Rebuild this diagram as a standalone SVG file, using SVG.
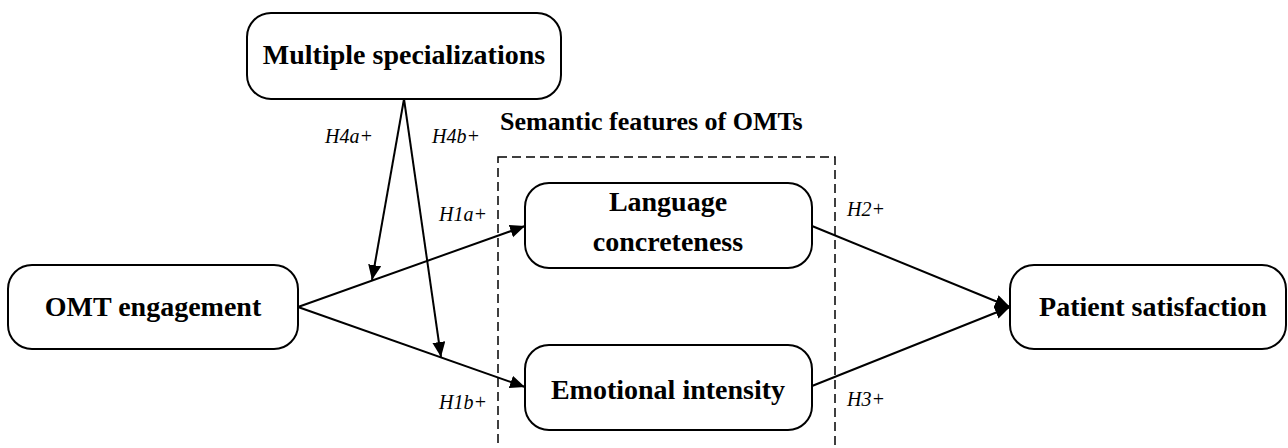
<svg xmlns="http://www.w3.org/2000/svg" width="1288" height="448" viewBox="0 0 1288 448">
<style>
.node{fill:#fff;stroke:#000;stroke-width:2}
.nt{font-family:"Liberation Serif","Times New Roman",serif;font-weight:bold;font-size:28px;fill:#000;text-anchor:middle}
.lbl{font-family:"Liberation Serif","Times New Roman",serif;font-style:italic;font-size:20px;fill:#000}
.edge{stroke:#000;stroke-width:2;fill:none}
.group{fill:none;stroke:#000;stroke-width:1.5;stroke-dasharray:9,5}
</style>
<defs>
<marker id="arr" markerUnits="userSpaceOnUse" markerWidth="16" markerHeight="14" refX="15" refY="6.5" orient="auto">
<path d="M0,0 L15,6.5 L0,13 Z" fill="#000"/>
</marker>
</defs>
<rect width="1288" height="448" fill="#fff"/>
<g id="semantic-group">
<rect class="group" x="498" y="157" width="337" height="310"/>
<text x="500" y="130" style="font-family:'Liberation Serif','Times New Roman',serif;font-weight:bold;font-size:26px">Semantic features of OMTs</text>
</g>
<g id="connectors">
<line class="edge" x1="298" y1="307" x2="525" y2="226" marker-end="url(#arr)"/>
<line class="edge" x1="298" y1="307" x2="525" y2="387" marker-end="url(#arr)"/>
<line class="edge" x1="404" y1="99" x2="372" y2="280" marker-end="url(#arr)"/>
<line class="edge" x1="404" y1="99" x2="441" y2="357" marker-end="url(#arr)"/>
<line class="edge" x1="812" y1="226" x2="1010" y2="307" marker-end="url(#arr)"/>
<line class="edge" x1="812" y1="386" x2="1010" y2="307" marker-end="url(#arr)"/>
<text class="lbl" x="325" y="143">H4a+</text>
<text class="lbl" x="432" y="143">H4b+</text>
<text class="lbl" x="439" y="221">H1a+</text>
<text class="lbl" x="439" y="409">H1b+</text>
<text class="lbl" x="847" y="216">H2+</text>
<text class="lbl" x="847" y="406">H3+</text>
</g>
<g id="multiple-specializations">
<rect class="node" x="247" y="13" width="314" height="86" rx="24"/>
<text class="nt" x="404" y="64">Multiple specializations</text>
</g>
<g id="omt-engagement">
<rect class="node" x="8" y="265" width="290" height="84" rx="24"/>
<text class="nt" x="153" y="316">OMT engagement</text>
</g>
<g id="language-concreteness">
<rect class="node" x="525" y="183" width="287" height="85" rx="24"/>
<text class="nt" x="668" y="211">Language</text>
<text class="nt" x="668" y="251">concreteness</text>
</g>
<g id="emotional-intensity">
<rect class="node" x="525" y="345" width="287" height="85" rx="24"/>
<text class="nt" x="668" y="399">Emotional intensity</text>
</g>
<g id="patient-satisfaction">
<rect class="node" x="1010" y="265" width="276" height="84" rx="24"/>
<text class="nt" x="1153" y="316">Patient satisfaction</text>
</g>
</svg>
